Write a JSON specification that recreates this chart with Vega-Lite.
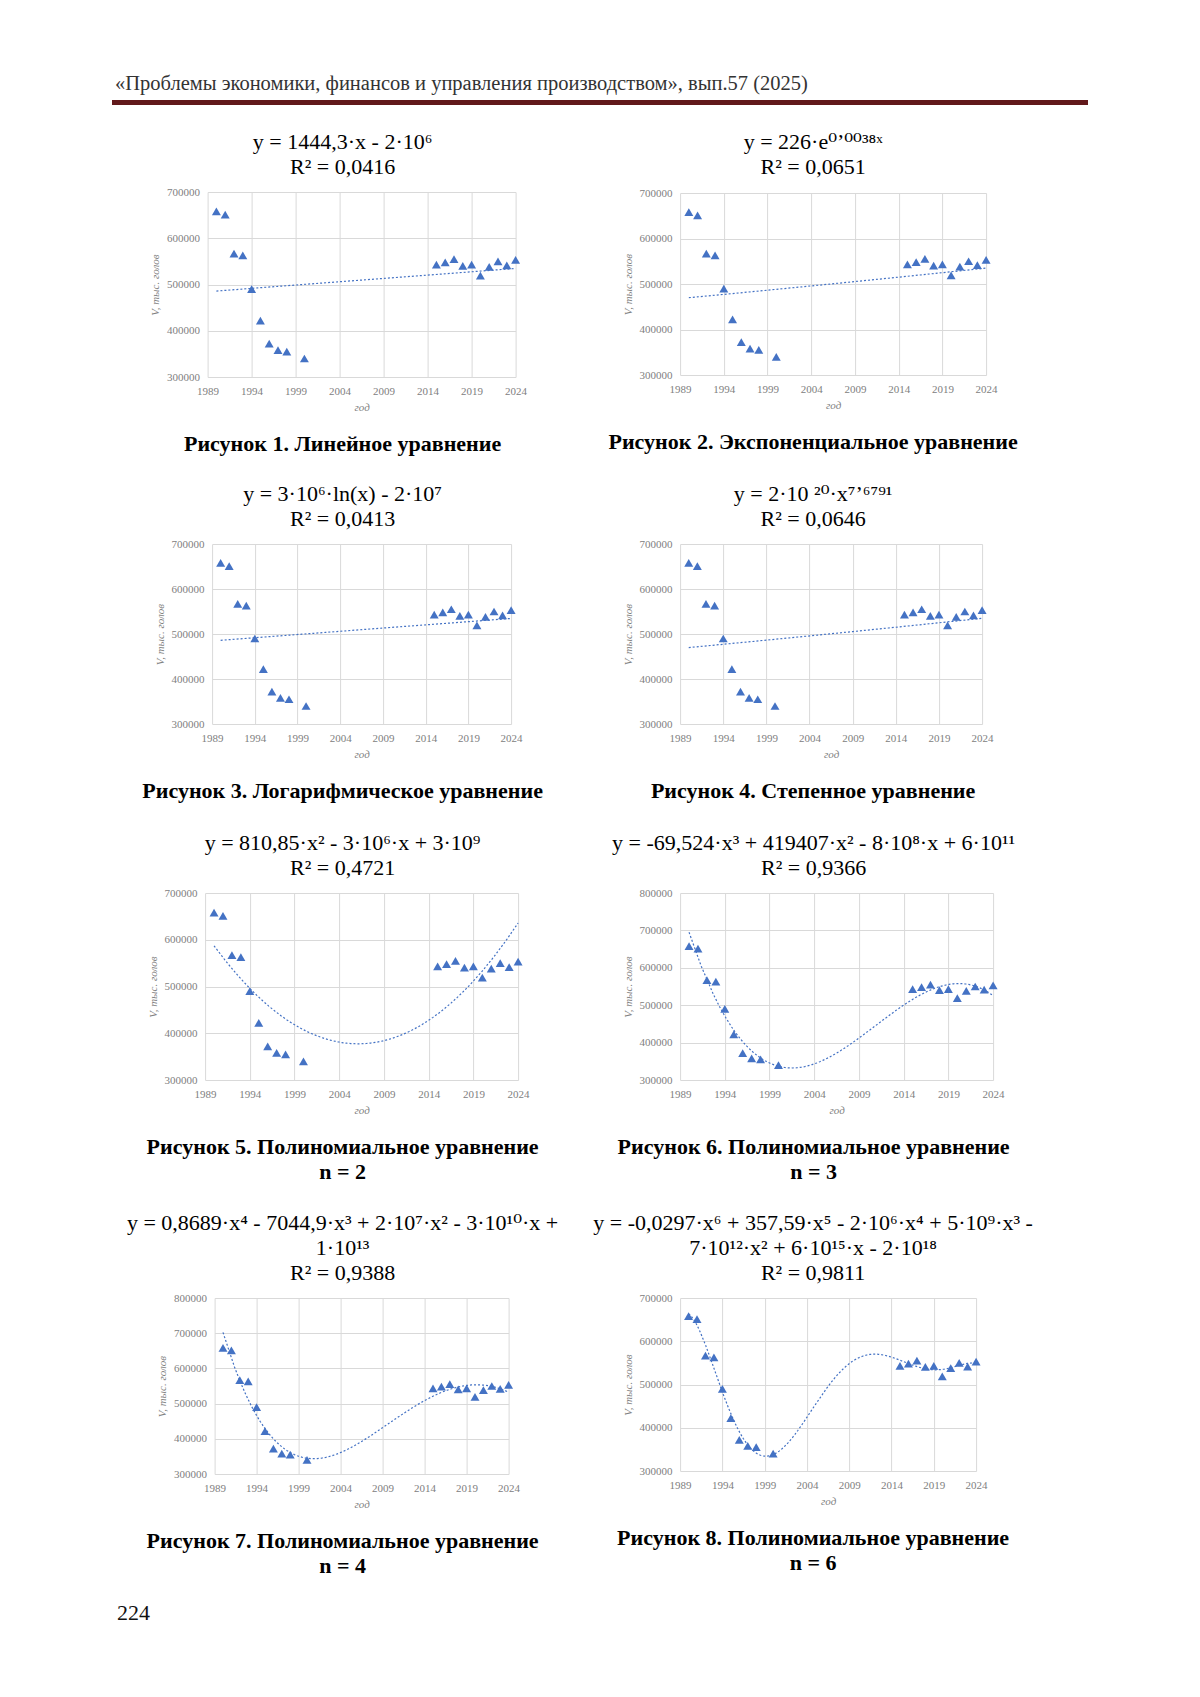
{
  "$schema": "https://vega.github.io/schema/vega-lite/v6.json",
  "background": "white",
  "padding": {"left": 112, "top": 74, "right": 5, "bottom": 5},
  "datasets": {
    "d": [
      {"year": 1990, "v": 658000}, {"year": 1991, "v": 651000}, {"year": 1992, "v": 567000},
      {"year": 1993, "v": 563000}, {"year": 1994, "v": 490000}, {"year": 1995, "v": 422000},
      {"year": 1996, "v": 372000}, {"year": 1997, "v": 358000}, {"year": 1998, "v": 355000},
      {"year": 2000, "v": 340000}, {"year": 2015, "v": 543000}, {"year": 2016, "v": 548000},
      {"year": 2017, "v": 555000}, {"year": 2018, "v": 540500}, {"year": 2019, "v": 543000},
      {"year": 2020, "v": 519000}, {"year": 2021, "v": 538000}, {"year": 2022, "v": 550000},
      {"year": 2023, "v": 541500}, {"year": 2024, "v": 553000}
    ]
  },
  "title": {"text": "224", "orient": "bottom", "anchor": "start", "frame": "bounds", "fontSize": 22, "offset": 26, "fontWeight": "normal", "color": "#111111", "dx": 5},
  "spacing": 25,
  "center": true,
  "vconcat": [
    {
      "width": 976, "height": 5,
      "data": {"values": []},
      "mark": "point",
      "encoding": {"y": {"datum": 1, "type": "quantitative", "axis": {"orient": "right", "labels": false, "ticks": false, "domain": false, "grid": false, "title": "x", "titleColor": "#ffffff", "titlePadding": 27, "titleFontStyle": "normal"}}},
      "view": {"fill": "#62191b", "stroke": null},
      "title": {"text": "«Проблемы экономики, финансов и управления производством», вып.57 (2025)", "anchor": "start", "frame": "group", "orient": "top", "fontSize": 20.5, "color": "#333333", "offset": 5, "dx": 3}
    },
    {
      "columns": 2,
      "bounds": "flush",
      "center": true,
      "spacing": {"row": 0, "column": 162},
      "concat": [
        {"width": 308, "height": 1, "data": {"values": []}, "mark": "point",
         "title": {"text": ["y = 1444,3·x - 2·10⁶", "R² = 0,0416"], "orient": "top", "frame": "group", "anchor": "middle", "offset": 12, "dx": -19}},
        {"width": 306, "height": 1, "data": {"values": []}, "mark": "point",
         "title": {"text": ["y = 226·e⁰ʼ⁰⁰³⁸ˣ", "R² = 0,0651"], "orient": "top", "frame": "group", "anchor": "middle", "offset": 12, "dx": -20}},
        {
          "width": 308, "height": 185, "data": {"name": "d"},
          "title": {"text": "Рисунок 1. Линейное уравнение", "orient": "bottom", "frame": "group", "anchor": "middle", "fontWeight": "bold", "fontSize": 22, "offset": 22, "dx": -19},
          "encoding": {
            "x": {"field": "year", "type": "quantitative", "scale": {"domain": [1989, 2024], "nice": false, "zero": false}, "axis": {"title": "год", "values": [1989, 1994, 1999, 2004, 2009, 2014, 2019, 2024], "format": "d"}},
            "y": {"field": "v", "type": "quantitative", "scale": {"domain": [300000, 700000], "nice": false, "zero": false}, "axis": {"title": "V, тыс. голов", "values": [300000, 400000, 500000, 600000, 700000], "format": "d"}}
          },
          "layer": [
            {"mark": {"type": "point", "shape": "triangle-up", "filled": true, "size": 80, "color": "#4472C4", "opacity": 1}},
            {"transform": [{"regression": "v", "on": "year", "method": "linear"}], "mark": {"type": "line", "color": "#4472C4", "strokeDash": [2, 2], "strokeWidth": 1.2}}
          ]
        },
        {
          "width": 306, "height": 182, "data": {"name": "d"},
          "title": {"text": "Рисунок 2. Экспоненциальное уравнение", "orient": "bottom", "frame": "group", "anchor": "middle", "fontWeight": "bold", "fontSize": 22, "offset": 22, "dx": -20},
          "encoding": {
            "x": {"field": "year", "type": "quantitative", "scale": {"domain": [1989, 2024], "nice": false, "zero": false}, "axis": {"title": "год", "values": [1989, 1994, 1999, 2004, 2009, 2014, 2019, 2024], "format": "d"}},
            "y": {"field": "v", "type": "quantitative", "scale": {"domain": [300000, 700000], "nice": false, "zero": false}, "axis": {"title": "V, тыс. голов", "values": [300000, 400000, 500000, 600000, 700000], "format": "d"}}
          },
          "layer": [
            {"mark": {"type": "point", "shape": "triangle-up", "filled": true, "size": 80, "color": "#4472C4", "opacity": 1}},
            {"transform": [{"regression": "v", "on": "year", "method": "pow"}], "mark": {"type": "line", "color": "#4472C4", "strokeDash": [2, 2], "strokeWidth": 1.2}}
          ]
        },
        {"width": 1, "height": 166, "data": {"values": []}, "mark": "point"},
        {"width": 1, "height": 166, "data": {"values": []}, "mark": "point"},
        {"width": 299, "height": 1, "data": {"values": []}, "mark": "point",
         "title": {"text": ["y = 3·10⁶·ln(x) - 2·10⁷", "R² = 0,0413"], "orient": "top", "frame": "group", "anchor": "middle", "offset": 12, "dx": -19}},
        {"width": 302, "height": 1, "data": {"values": []}, "mark": "point",
         "title": {"text": ["y = 2·10 ²⁰·x⁷ʼ⁶⁷⁹¹", "R² = 0,0646"], "orient": "top", "frame": "group", "anchor": "middle", "offset": 12, "dx": -18}},
        {
          "width": 299, "height": 180, "data": {"name": "d"},
          "title": {"text": "Рисунок 3. Логарифмическое уравнение", "orient": "bottom", "frame": "group", "anchor": "middle", "fontWeight": "bold", "fontSize": 22, "offset": 22, "dx": -19},
          "encoding": {
            "x": {"field": "year", "type": "quantitative", "scale": {"domain": [1989, 2024], "nice": false, "zero": false}, "axis": {"title": "год", "values": [1989, 1994, 1999, 2004, 2009, 2014, 2019, 2024], "format": "d"}},
            "y": {"field": "v", "type": "quantitative", "scale": {"domain": [300000, 700000], "nice": false, "zero": false}, "axis": {"title": "V, тыс. голов", "values": [300000, 400000, 500000, 600000, 700000], "format": "d"}}
          },
          "layer": [
            {"mark": {"type": "point", "shape": "triangle-up", "filled": true, "size": 80, "color": "#4472C4", "opacity": 1}},
            {"transform": [{"regression": "v", "on": "year", "method": "log"}], "mark": {"type": "line", "color": "#4472C4", "strokeDash": [2, 2], "strokeWidth": 1.2}}
          ]
        },
        {
          "width": 302, "height": 180, "data": {"name": "d"},
          "title": {"text": "Рисунок 4. Степенное уравнение", "orient": "bottom", "frame": "group", "anchor": "middle", "fontWeight": "bold", "fontSize": 22, "offset": 22, "dx": -18},
          "encoding": {
            "x": {"field": "year", "type": "quantitative", "scale": {"domain": [1989, 2024], "nice": false, "zero": false}, "axis": {"title": "год", "values": [1989, 1994, 1999, 2004, 2009, 2014, 2019, 2024], "format": "d"}},
            "y": {"field": "v", "type": "quantitative", "scale": {"domain": [300000, 700000], "nice": false, "zero": false}, "axis": {"title": "V, тыс. голов", "values": [300000, 400000, 500000, 600000, 700000], "format": "d"}}
          },
          "layer": [
            {"mark": {"type": "point", "shape": "triangle-up", "filled": true, "size": 80, "color": "#4472C4", "opacity": 1}},
            {"transform": [{"regression": "v", "on": "year", "method": "pow"}], "mark": {"type": "line", "color": "#4472C4", "strokeDash": [2, 2], "strokeWidth": 1.2}}
          ]
        },
        {"width": 1, "height": 168, "data": {"values": []}, "mark": "point"},
        {"width": 1, "height": 168, "data": {"values": []}, "mark": "point"},
        {"width": 313, "height": 1, "data": {"values": []}, "mark": "point",
         "title": {"text": ["y = 810,85·x² - 3·10⁶·x + 3·10⁹", "R² = 0,4721"], "orient": "top", "frame": "group", "anchor": "middle", "offset": 12, "dx": -19}},
        {"width": 313, "height": 1, "data": {"values": []}, "mark": "point",
         "title": {"text": ["y = -69,524·x³ + 419407·x² - 8·10⁸·x + 6·10¹¹", "R² = 0,9366"], "orient": "top", "frame": "group", "anchor": "middle", "offset": 12, "dx": -23}},
        {
          "width": 313, "height": 187, "data": {"name": "d"},
          "title": {"text": ["Рисунок 5. Полиномиальное уравнение", "n = 2"], "orient": "bottom", "frame": "group", "anchor": "middle", "fontWeight": "bold", "fontSize": 22, "offset": 22, "dx": -19},
          "encoding": {
            "x": {"field": "year", "type": "quantitative", "scale": {"domain": [1989, 2024], "nice": false, "zero": false}, "axis": {"title": "год", "values": [1989, 1994, 1999, 2004, 2009, 2014, 2019, 2024], "format": "d"}},
            "y": {"field": "v", "type": "quantitative", "scale": {"domain": [300000, 700000], "nice": false, "zero": false}, "axis": {"title": "V, тыс. голов", "values": [300000, 400000, 500000, 600000, 700000], "format": "d"}}
          },
          "layer": [
            {"mark": {"type": "point", "shape": "triangle-up", "filled": true, "size": 80, "color": "#4472C4", "opacity": 1}},
            {"transform": [{"regression": "v", "on": "year", "method": "poly", "order": 2}], "mark": {"type": "line", "color": "#4472C4", "strokeDash": [2, 2], "strokeWidth": 1.2}}
          ]
        },
        {
          "width": 313, "height": 187, "data": {"name": "d"},
          "title": {"text": ["Рисунок 6. Полиномиальное уравнение", "n = 3"], "orient": "bottom", "frame": "group", "anchor": "middle", "fontWeight": "bold", "fontSize": 22, "offset": 22, "dx": -23},
          "encoding": {
            "x": {"field": "year", "type": "quantitative", "scale": {"domain": [1989, 2024], "nice": false, "zero": false}, "axis": {"title": "год", "values": [1989, 1994, 1999, 2004, 2009, 2014, 2019, 2024], "format": "d"}},
            "y": {"field": "v", "type": "quantitative", "scale": {"domain": [300000, 800000], "nice": false, "zero": false}, "axis": {"title": "V, тыс. голов", "values": [300000, 400000, 500000, 600000, 700000, 800000], "format": "d"}}
          },
          "layer": [
            {"mark": {"type": "point", "shape": "triangle-up", "filled": true, "size": 80, "color": "#4472C4", "opacity": 1}},
            {"transform": [{"regression": "v", "on": "year", "method": "poly", "order": 3}], "mark": {"type": "line", "color": "#4472C4", "strokeDash": [2, 2], "strokeWidth": 1.2}}
          ]
        },
        {"width": 1, "height": 217, "data": {"values": []}, "mark": "point"},
        {"width": 1, "height": 217, "data": {"values": []}, "mark": "point"},
        {"width": 294, "height": 1, "data": {"values": []}, "mark": "point",
         "title": {"text": ["y = 0,8689·x⁴ - 7044,9·x³ + 2·10⁷·x² - 3·10¹⁰·x +", "1·10¹³", "R² = 0,9388"], "orient": "top", "frame": "group", "anchor": "middle", "offset": 12, "dx": -19}},
        {"width": 296, "height": 1, "data": {"values": []}, "mark": "point",
         "title": {"text": ["y = -0,0297·x⁶ + 357,59·x⁵ - 2·10⁶·x⁴ + 5·10⁹·x³ -", "7·10¹²·x² + 6·10¹⁵·x - 2·10¹⁸", "R² = 0,9811"], "orient": "top", "frame": "group", "anchor": "middle", "offset": 12, "dx": -15}},
        {
          "width": 294, "height": 176, "data": {"name": "d"},
          "title": {"text": ["Рисунок 7. Полиномиальное уравнение", "n = 4"], "orient": "bottom", "frame": "group", "anchor": "middle", "fontWeight": "bold", "fontSize": 22, "offset": 22, "dx": -19},
          "encoding": {
            "x": {"field": "year", "type": "quantitative", "scale": {"domain": [1989, 2024], "nice": false, "zero": false}, "axis": {"title": "год", "values": [1989, 1994, 1999, 2004, 2009, 2014, 2019, 2024], "format": "d"}},
            "y": {"field": "v", "type": "quantitative", "scale": {"domain": [300000, 800000], "nice": false, "zero": false}, "axis": {"title": "V, тыс. голов", "values": [300000, 400000, 500000, 600000, 700000, 800000], "format": "d"}}
          },
          "layer": [
            {"mark": {"type": "point", "shape": "triangle-up", "filled": true, "size": 80, "color": "#4472C4", "opacity": 1}},
            {"transform": [{"regression": "v", "on": "year", "method": "poly", "order": 4}], "mark": {"type": "line", "color": "#4472C4", "strokeDash": [2, 2], "strokeWidth": 1.2}}
          ]
        },
        {
          "width": 296, "height": 173, "data": {"name": "d"},
          "title": {"text": ["Рисунок 8. Полиномиальное уравнение", "n = 6"], "orient": "bottom", "frame": "group", "anchor": "middle", "fontWeight": "bold", "fontSize": 22, "offset": 22, "dx": -15},
          "encoding": {
            "x": {"field": "year", "type": "quantitative", "scale": {"domain": [1989, 2024], "nice": false, "zero": false}, "axis": {"title": "год", "values": [1989, 1994, 1999, 2004, 2009, 2014, 2019, 2024], "format": "d"}},
            "y": {"field": "v", "type": "quantitative", "scale": {"domain": [300000, 700000], "nice": false, "zero": false}, "axis": {"title": "V, тыс. голов", "values": [300000, 400000, 500000, 600000, 700000], "format": "d"}}
          },
          "layer": [
            {"mark": {"type": "point", "shape": "triangle-up", "filled": true, "size": 80, "color": "#4472C4", "opacity": 1}},
            {"transform": [{"regression": "v", "on": "year", "method": "poly", "order": 6}], "mark": {"type": "line", "color": "#4472C4", "strokeDash": [2, 2], "strokeWidth": 1.2}}
          ]
        }
      ]
    }
  ],
  "config": {
    "font": "Liberation Serif",
    "view": {"stroke": null},
    "axis": {
      "labelFont": "Liberation Serif", "labelFontSize": 11, "labelColor": "#808080",
      "titleFont": "Liberation Serif", "titleFontSize": 11, "titleFontStyle": "italic", "titleFontWeight": "normal", "titleColor": "#808080",
      "gridColor": "#d9d9d9", "gridWidth": 1, "domain": false, "ticks": false, "labelPadding": 8, "titlePadding": 5, "labelFlush": false
    },
    "axisY": {"titlePadding": 6},
    "title": {"font": "Liberation Serif, DejaVu Serif", "fontSize": 22, "fontWeight": "normal", "color": "#000000", "lineHeight": 25}
  }
}
